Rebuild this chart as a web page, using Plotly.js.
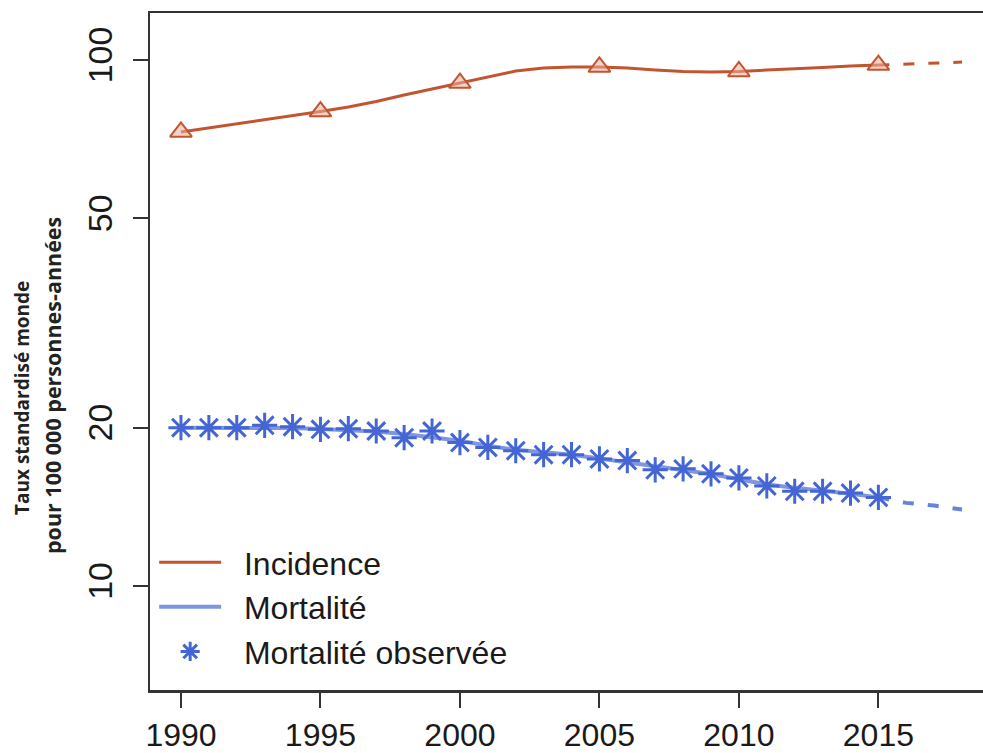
<!DOCTYPE html>
<html>
<head>
<meta charset="utf-8">
<script src="https://cdn.plot.ly/plotly-3.0.1.min.js"></script>
<style>
html,body{margin:0;padding:0;background:#fff;}
#chart{width:983px;height:753px;}
</style>
</head>
<body>
<div id="chart"></div>
<script>
// ---- data ----
const years = [1990,1991,1992,1993,1994,1995,1996,1997,1998,1999,2000,2001,2002,
               2003,2004,2005,2006,2007,2008,2009,2010,2011,2012,2013,2014,2015];
const incidenceModel = [72.97,74.25,75.56,76.90,78.43,79.82,81.42,83.40,85.80,88.08,
                        90.42,93.03,95.30,96.56,96.98,96.98,96.56,95.72,95.09,94.88,
                        95.09,95.72,96.14,96.77,97.41,97.83];
const incidenceObsYears = [1990,1995,2000,2005,2010,2015];
const incidenceObs = [73.0,79.8,90.4,97.0,95.1,97.8];
const projYears = [2015,2016,2017,2018];
const incidenceProj = [97.83,98.26,98.70,99.10];
const mortalityModel = [20.0,20.0,20.0,20.0,19.97,19.89,19.80,19.67,19.45,19.21,
                        18.89,18.48,18.16,17.96,17.77,17.48,17.19,16.84,16.59,16.33,
                        15.96,15.60,15.37,15.20,14.97,14.74];
const mortalityObs = [20.0,20.0,20.0,20.21,20.09,19.86,19.91,19.71,19.14,19.71,
                      18.74,18.34,18.08,17.77,17.77,17.44,17.32,16.63,16.70,16.34,
                      16.05,15.50,15.14,15.14,15.02,14.74];
const mortalityProj = [14.74,14.39,14.22,13.98];
const xTickVals = [1990,1995,2000,2005,2010,2015];
const yTickVals = [10,20,50,100];
const yTickText = ['10','20','50','100'];
const gridVals = [50,100];
const legendLabels = ['Incidence','Mortalité','Mortalité observée'];
const yTitleLines = ['Taux standardisé monde','pour 100 000 personnes-années'];

// ---- styles ----
const incColor = '#c2552f';
const morColor = '#4466d4';
const fontFam = 'Liberation Sans, Arial, sans-serif';
const pad = '\u00a0\u00a0';

const traces = [
  {x:years, y:incidenceModel, mode:'lines', name:pad + legendLabels[0],
   line:{color:incColor, width:3}},
  {x:projYears, y:incidenceProj, mode:'lines', showlegend:false, hoverinfo:'skip',
   line:{color:incColor, width:3, dash:'11px,14px'}},
  {x:incidenceObsYears, y:incidenceObs, mode:'markers', showlegend:false,
   marker:{symbol:'triangle-up', size:19, color:'rgba(238,175,155,0.55)',
           line:{color:incColor, width:2}}},
  {x:years, y:mortalityModel, mode:'lines', name:pad + legendLabels[1],
   line:{color:'#7f96e2', width:4}},
  {x:projYears, y:mortalityProj, mode:'lines', showlegend:false, hoverinfo:'skip',
   line:{color:'#6684dc', width:4, dash:'11px,14px'}},
  {x:years, y:mortalityObs, mode:'markers', name:pad + legendLabels[2],
   marker:{symbol:'asterisk-open', size:21, color:morColor,
           line:{color:morColor, width:3}}}
];

const layout = {
  width:983, height:753,
  margin:{l:150, r:0, t:13, b:63},
  paper_bgcolor:'#fff', plot_bgcolor:'#fff',
  showlegend:true,
  xaxis:{range:[1988.89,2018.75], tickvals:xTickVals, ticks:'outside', ticklen:15,
         tickwidth:2, tickcolor:'#333', showline:true, linecolor:'#333', linewidth:2.5,
         mirror:true, showgrid:false, zeroline:false,
         tickfont:{family:fontFam, size:32, color:'#1a1a1a'}, ticklabelstandoff:0},
  yaxis:{type:'log', range:[0.8023,2.0894], tickvals:yTickVals, ticktext:yTickText,
         tickangle:-90, ticks:'outside', ticklen:15, tickwidth:2, tickcolor:'#333',
         showline:true, linecolor:'#333', linewidth:2.5, mirror:false,
         showgrid:false, zeroline:false,
         tickfont:{family:fontFam, size:34, color:'#1a1a1a'}, ticklabelstandoff:7},
  yaxis2:{type:'log', range:[0.8023,2.0894], overlaying:'y', side:'left',
          tickvals:gridVals, showticklabels:false, ticks:'', showline:false,
          showgrid:true, gridcolor:'#b8b8b8', gridwidth:2, griddash:'dot',
          zeroline:false},
  legend:{x:0.005, y:0.229, xanchor:'left', yanchor:'top', bgcolor:'rgba(0,0,0,0)',
          font:{family:fontFam, size:32, color:'#1a1a1a'},
          itemwidth:62, tracegroupgap:0},
  annotations:[
    {text:yTitleLines[0], xref:'paper', yref:'paper', x:-0.1537, y:(690-398)/677,
     xanchor:'center', yanchor:'middle', textangle:-90, showarrow:false,
     font:{family:'Open Sans, sans-serif', size:19, weight:700, color:'#222'}},
    {text:yTitleLines[1], xref:'paper', yref:'paper', x:-0.1176, y:(690-386)/677,
     xanchor:'center', yanchor:'middle', textangle:-90, showarrow:false,
     font:{family:'Open Sans, sans-serif', size:21.5, weight:700, color:'#222'}}
  ]
};

Plotly.newPlot('chart', traces, layout, {displayModeBar:false, staticPlot:true});
</script>
</body>
</html>
